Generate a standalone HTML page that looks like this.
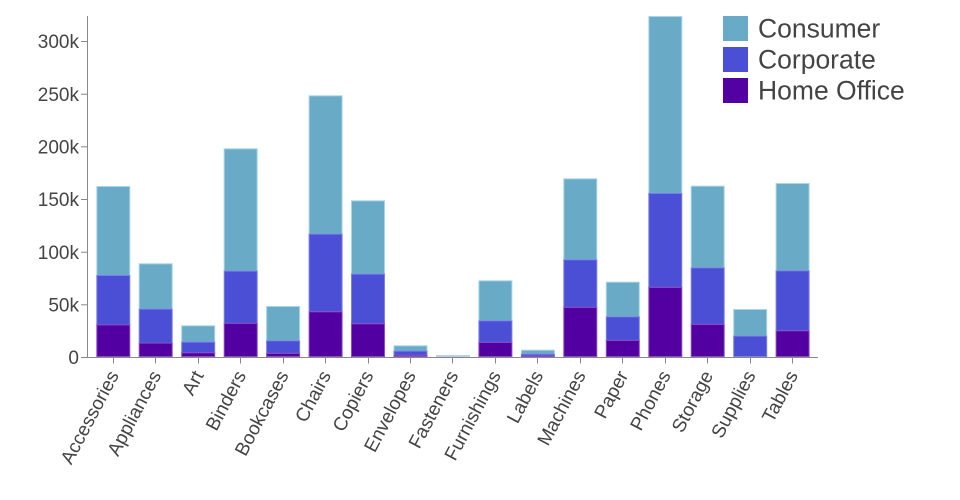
<!DOCTYPE html>
<html>
<head>
<meta charset="utf-8">
<style>
html,body{margin:0;padding:0;background:#fff;}
svg{display:block;}
text{font-family:"Liberation Sans","DejaVu Sans",sans-serif;fill:#444;}
</style>
</head>
<body>
<svg width="960" height="500" viewBox="0 0 960 500" xmlns="http://www.w3.org/2000/svg">
<g id="bars">
<rect x="96.8" y="186.5" width="33" height="89" fill="#69abc7" stroke="#a8d5e8" stroke-width="1"/>
<rect x="96.8" y="275.5" width="33" height="49.4" fill="#4a4fd6" stroke="#7d80e8" stroke-width="1"/>
<rect x="96.8" y="324.9" width="33" height="31.6" fill="#5300a3" stroke="#8c4dc4" stroke-width="1"/>
<rect x="139.2" y="263.8" width="33" height="45.3" fill="#69abc7" stroke="#a8d5e8" stroke-width="1"/>
<rect x="139.2" y="309.1" width="33" height="34" fill="#4a4fd6" stroke="#7d80e8" stroke-width="1"/>
<rect x="139.2" y="343.1" width="33" height="13.4" fill="#5300a3" stroke="#8c4dc4" stroke-width="1"/>
<rect x="181.7" y="325.8" width="33" height="16.3" fill="#69abc7" stroke="#a8d5e8" stroke-width="1"/>
<rect x="181.7" y="342.1" width="33" height="10.7" fill="#4a4fd6" stroke="#7d80e8" stroke-width="1"/>
<rect x="181.7" y="352.8" width="33" height="3.7" fill="#5300a3" stroke="#8c4dc4" stroke-width="1"/>
<rect x="224.2" y="148.8" width="33" height="122.3" fill="#69abc7" stroke="#a8d5e8" stroke-width="1"/>
<rect x="224.2" y="271.1" width="33" height="52.3" fill="#4a4fd6" stroke="#7d80e8" stroke-width="1"/>
<rect x="224.2" y="323.4" width="33" height="33.1" fill="#5300a3" stroke="#8c4dc4" stroke-width="1"/>
<rect x="266.6" y="306.5" width="33" height="34.3" fill="#69abc7" stroke="#a8d5e8" stroke-width="1"/>
<rect x="266.6" y="340.8" width="33" height="12.6" fill="#4a4fd6" stroke="#7d80e8" stroke-width="1"/>
<rect x="266.6" y="353.4" width="33" height="3.1" fill="#5300a3" stroke="#8c4dc4" stroke-width="1"/>
<rect x="309.1" y="95.8" width="33" height="138.3" fill="#69abc7" stroke="#a8d5e8" stroke-width="1"/>
<rect x="309.1" y="234.1" width="33" height="77.7" fill="#4a4fd6" stroke="#7d80e8" stroke-width="1"/>
<rect x="309.1" y="311.8" width="33" height="44.7" fill="#5300a3" stroke="#8c4dc4" stroke-width="1"/>
<rect x="351.5" y="200.8" width="33" height="73.3" fill="#69abc7" stroke="#a8d5e8" stroke-width="1"/>
<rect x="351.5" y="274.1" width="33" height="49.7" fill="#4a4fd6" stroke="#7d80e8" stroke-width="1"/>
<rect x="351.5" y="323.8" width="33" height="32.7" fill="#5300a3" stroke="#8c4dc4" stroke-width="1"/>
<rect x="394" y="345.8" width="33" height="5.3" fill="#69abc7" stroke="#a8d5e8" stroke-width="1"/>
<rect x="394" y="351.1" width="33" height="4.3" fill="#4a4fd6" stroke="#7d80e8" stroke-width="1"/>
<rect x="394" y="355.4" width="33" height="1.1" fill="#5300a3" stroke="#8c4dc4" stroke-width="1"/>
<rect x="436.5" y="355.6" width="33" height="1" fill="#69abc7" stroke="#a8d5e8" stroke-width="1"/>
<rect x="436.5" y="356.6" width="33" height="0.4" fill="#4a4fd6" stroke="#c8c0ea" stroke-width="0.6"/>
<rect x="478.9" y="280.8" width="33" height="40" fill="#69abc7" stroke="#a8d5e8" stroke-width="1"/>
<rect x="478.9" y="320.8" width="33" height="21.6" fill="#4a4fd6" stroke="#7d80e8" stroke-width="1"/>
<rect x="478.9" y="342.4" width="33" height="14.1" fill="#5300a3" stroke="#8c4dc4" stroke-width="1"/>
<rect x="521.4" y="350.2" width="33" height="3.9" fill="#69abc7" stroke="#a8d5e8" stroke-width="1"/>
<rect x="521.4" y="354.1" width="33" height="2" fill="#4a4fd6" stroke="#7d80e8" stroke-width="1"/>
<rect x="521.4" y="356.1" width="33" height="0.5" fill="#5300a3" stroke="#8c4dc4" stroke-width="0.8"/>
<rect x="563.8" y="178.8" width="33" height="81" fill="#69abc7" stroke="#a8d5e8" stroke-width="1"/>
<rect x="563.8" y="259.8" width="33" height="47.6" fill="#4a4fd6" stroke="#7d80e8" stroke-width="1"/>
<rect x="563.8" y="307.4" width="33" height="49.1" fill="#5300a3" stroke="#8c4dc4" stroke-width="1"/>
<rect x="606.3" y="282.2" width="33" height="34.6" fill="#69abc7" stroke="#a8d5e8" stroke-width="1"/>
<rect x="606.3" y="316.8" width="33" height="23.6" fill="#4a4fd6" stroke="#7d80e8" stroke-width="1"/>
<rect x="606.3" y="340.4" width="33" height="16.1" fill="#5300a3" stroke="#8c4dc4" stroke-width="1"/>
<rect x="648.8" y="16.5" width="33" height="176.9" fill="#69abc7" stroke="#a8d5e8" stroke-width="1"/>
<rect x="648.8" y="193.4" width="33" height="94" fill="#4a4fd6" stroke="#7d80e8" stroke-width="1"/>
<rect x="648.8" y="287.4" width="33" height="69.1" fill="#5300a3" stroke="#8c4dc4" stroke-width="1"/>
<rect x="691.2" y="186.2" width="33" height="81.6" fill="#69abc7" stroke="#a8d5e8" stroke-width="1"/>
<rect x="691.2" y="267.8" width="33" height="56.6" fill="#4a4fd6" stroke="#7d80e8" stroke-width="1"/>
<rect x="691.2" y="324.4" width="33" height="32.1" fill="#5300a3" stroke="#8c4dc4" stroke-width="1"/>
<rect x="733.7" y="309.5" width="33" height="26.6" fill="#69abc7" stroke="#a8d5e8" stroke-width="1"/>
<rect x="733.7" y="336.1" width="33" height="20.4" fill="#4a4fd6" stroke="#7d80e8" stroke-width="1"/>
<rect x="776.1" y="183.5" width="33" height="87.3" fill="#69abc7" stroke="#a8d5e8" stroke-width="1"/>
<rect x="776.1" y="270.8" width="33" height="60" fill="#4a4fd6" stroke="#7d80e8" stroke-width="1"/>
<rect x="776.1" y="330.8" width="33" height="25.7" fill="#5300a3" stroke="#8c4dc4" stroke-width="1"/>
</g>

<g stroke="#888" stroke-width="1" fill="none">
<line x1="87.5" y1="16" x2="87.5" y2="357.5"/>
<line x1="87.5" y1="357.5" x2="818" y2="357.5"/>
<line x1="81" y1="357.5" x2="87.5" y2="357.5"/>
<line x1="81" y1="304.8" x2="87.5" y2="304.8"/>
<line x1="81" y1="252.2" x2="87.5" y2="252.2"/>
<line x1="81" y1="199.5" x2="87.5" y2="199.5"/>
<line x1="81" y1="146.8" x2="87.5" y2="146.8"/>
<line x1="81" y1="94.2" x2="87.5" y2="94.2"/>
<line x1="81" y1="41.5" x2="87.5" y2="41.5"/>
</g>
<g stroke="#888" stroke-width="1">
<line x1="113.5" y1="357.5" x2="113.5" y2="363.5"/>
<line x1="155.5" y1="357.5" x2="155.5" y2="363.5"/>
<line x1="198.5" y1="357.5" x2="198.5" y2="363.5"/>
<line x1="240.5" y1="357.5" x2="240.5" y2="363.5"/>
<line x1="283.5" y1="357.5" x2="283.5" y2="363.5"/>
<line x1="325.5" y1="357.5" x2="325.5" y2="363.5"/>
<line x1="368.5" y1="357.5" x2="368.5" y2="363.5"/>
<line x1="410.5" y1="357.5" x2="410.5" y2="363.5"/>
<line x1="452.5" y1="357.5" x2="452.5" y2="363.5"/>
<line x1="495.5" y1="357.5" x2="495.5" y2="363.5"/>
<line x1="537.5" y1="357.5" x2="537.5" y2="363.5"/>
<line x1="580.5" y1="357.5" x2="580.5" y2="363.5"/>
<line x1="622.5" y1="357.5" x2="622.5" y2="363.5"/>
<line x1="665.5" y1="357.5" x2="665.5" y2="363.5"/>
<line x1="707.5" y1="357.5" x2="707.5" y2="363.5"/>
<line x1="750.5" y1="357.5" x2="750.5" y2="363.5"/>
<line x1="792.5" y1="357.5" x2="792.5" y2="363.5"/>
</g>

<g font-size="19" text-anchor="end">
<text x="79" y="364">0</text>
<text x="79" y="311.5">50k</text>
<text x="79" y="258.8">100k</text>
<text x="79" y="206.2">150k</text>
<text x="79" y="153.5">200k</text>
<text x="79" y="100.8">250k</text>
<text x="79" y="48.2">300k</text>
</g>

<g font-size="19" text-anchor="end">
<text transform="translate(113.5,372) rotate(-62)" dy="0.35em">Accessories</text>
<text transform="translate(155.8,372) rotate(-62)" dy="0.35em">Appliances</text>
<text transform="translate(198.3,372) rotate(-62)" dy="0.35em">Art</text>
<text transform="translate(240.7,372) rotate(-62)" dy="0.35em">Binders</text>
<text transform="translate(283.2,372) rotate(-62)" dy="0.35em">Bookcases</text>
<text transform="translate(325.6,372) rotate(-62)" dy="0.35em">Chairs</text>
<text transform="translate(368.1,372) rotate(-62)" dy="0.35em">Copiers</text>
<text transform="translate(410.5,372) rotate(-62)" dy="0.35em">Envelopes</text>
<text transform="translate(453,372) rotate(-62)" dy="0.35em">Fasteners</text>
<text transform="translate(495.4,372) rotate(-62)" dy="0.35em">Furnishings</text>
<text transform="translate(537.9,372) rotate(-62)" dy="0.35em">Labels</text>
<text transform="translate(580.3,372) rotate(-62)" dy="0.35em">Machines</text>
<text transform="translate(622.8,372) rotate(-62)" dy="0.35em">Paper</text>
<text transform="translate(665.3,372) rotate(-62)" dy="0.35em">Phones</text>
<text transform="translate(707.7,372) rotate(-62)" dy="0.35em">Storage</text>
<text transform="translate(750.2,372) rotate(-62)" dy="0.35em">Supplies</text>
<text transform="translate(792.6,372) rotate(-62)" dy="0.35em">Tables</text>
</g>

<rect x="723" y="16" width="25" height="25" fill="#69abc7"/>
<rect x="723" y="47" width="25" height="25" fill="#4a4fd6"/>
<rect x="723" y="78" width="25" height="25" fill="#5300a3"/>
<g font-size="26.5">
<text x="758" y="37.5">Consumer</text>
<text x="758" y="68.5">Corporate</text>
<text x="758" y="99.5">Home Office</text>
</g>
</svg>
</body>
</html>
